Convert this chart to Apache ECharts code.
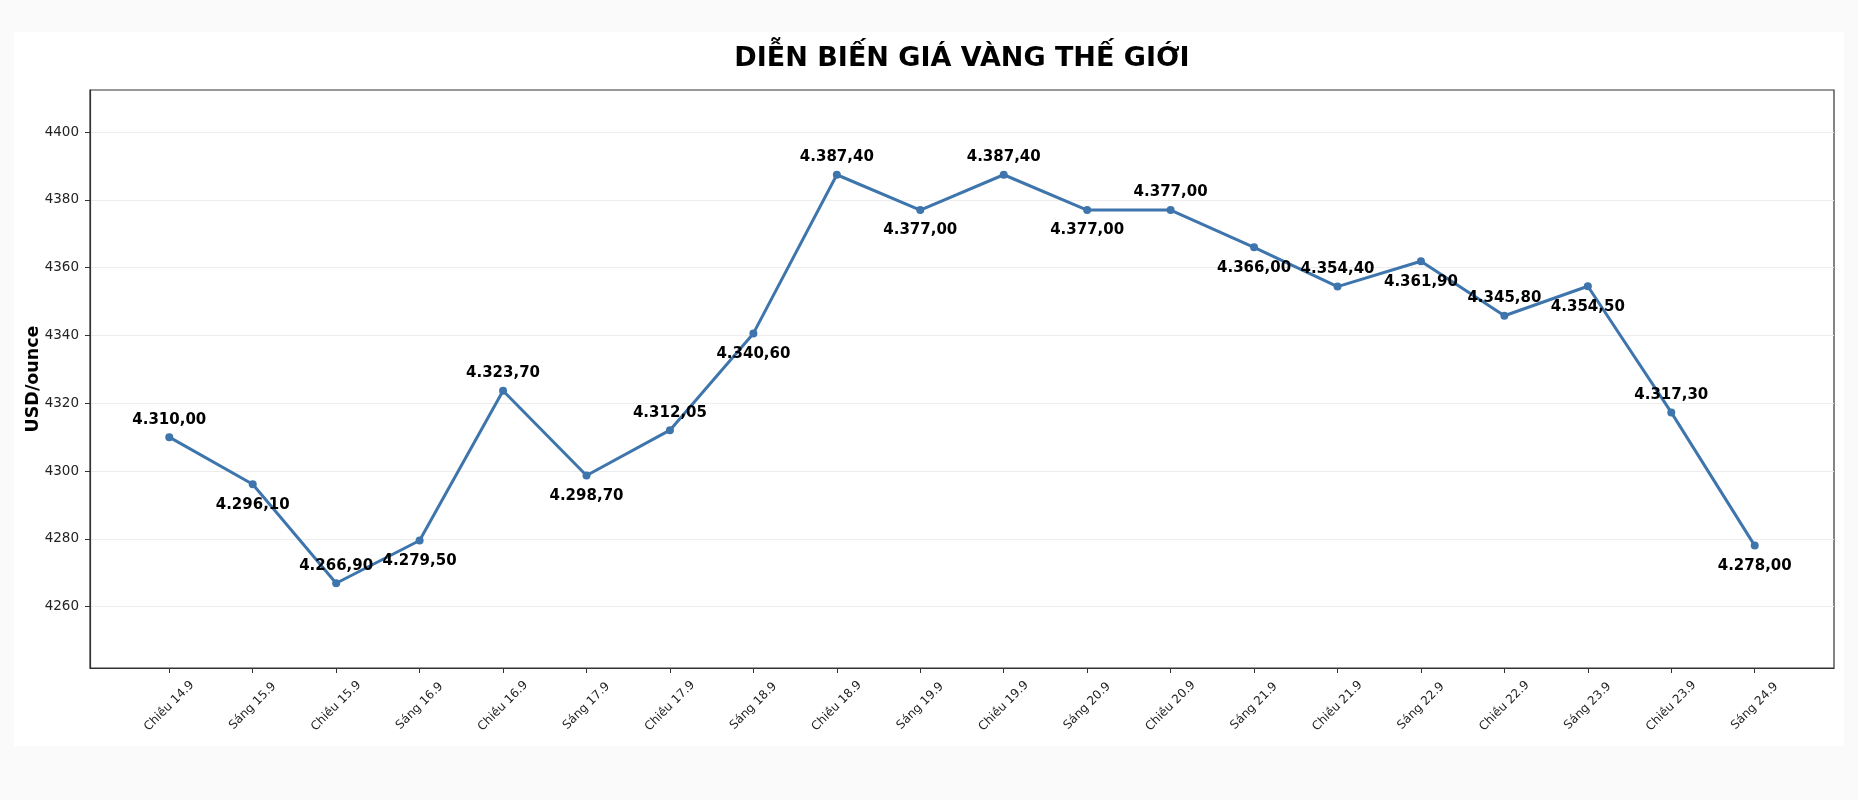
<!DOCTYPE html>
<html>
<head>
<meta charset="utf-8">
<script src="https://cdn.jsdelivr.net/npm/echarts@6/dist/echarts.min.js"></script>
<style>
  html, body { margin: 0; padding: 0; background: #fafafa; }
  #panel { position: absolute; left: 14px; top: 32px; width: 1830px; height: 714px; background: #ffffff; }
  #chart { position: absolute; left: 0; top: 0; width: 1858px; height: 800px; }
</style>
</head>
<body>
<div id="panel"></div>
<div id="chart"></div>
<script>
const categories = ['Chiều 14.9','Sáng 15.9','Chiều 15.9','Sáng 16.9','Chiều 16.9','Sáng 17.9','Chiều 17.9','Sáng 18.9','Chiều 18.9','Sáng 19.9','Chiều 19.9','Sáng 20.9','Chiều 20.9','Sáng 21.9','Chiều 21.9','Sáng 22.9','Chiều 22.9','Sáng 23.9','Chiều 23.9','Sáng 24.9'];
const prices = [4310.00, 4296.10, 4266.90, 4279.50, 4323.70, 4298.70, 4312.05, 4340.60, 4387.40, 4377.00, 4387.40, 4377.00, 4377.00, 4366.00, 4354.40, 4361.90, 4345.80, 4354.50, 4317.30, 4278.00];
const yTicks = [4260, 4280, 4300, 4320, 4340, 4360, 4380, 4400];
const titleText = 'DIỄN BIẾN GIÁ VÀNG THẾ GIỚI';
const yName = 'USD/ounce';

function fmtVN(v) {
  const parts = v.toFixed(2).split('.');
  const intPart = parts[0].replace(/\B(?=(\d{3})+(?!\d))/g, '.');
  return intPart + ',' + parts[1];
}

const xIdx = categories.map((c, i) => i);
const seriesData = prices.map((v, i) => ({
  value: [i, v],
  label: i % 2 === 0 ? { position: 'top', distance: 6 } : { position: 'bottom', distance: 9 }
}));

const FONT = 'DejaVu Sans';
const chart = echarts.init(document.getElementById('chart'), null, { renderer: 'canvas' });
chart.setOption({
  backgroundColor: 'transparent',
  animation: false,
  title: {
    text: titleText,
    left: 962,
    textAlign: 'center',
    top: 45.5,
    padding: 0,
    textStyle: { fontFamily: FONT, fontSize: 27, fontWeight: 'bold', color: '#000' }
  },
  grid: {
    left: 90, right: 24, top: 90, bottom: 132,
    show: true, borderColor: '#333', borderWidth: 1.2, backgroundColor: 'transparent'
  },
  xAxis: {
    type: 'value',
    min: -0.95,
    max: 19.95,
    axisLine: { show: true, onZero: false, lineStyle: { color: '#333', width: 1.2 } },
    axisTick: { show: true, customValues: xIdx, length: 5, lineStyle: { color: '#333' } },
    axisLabel: {
      customValues: xIdx,
      rotate: 45,
      align: 'center',
      verticalAlign: 'middle',
      margin: 38,
      fontFamily: FONT,
      fontSize: 12,
      color: '#222',
      formatter: v => categories[Math.round(v)] || ''
    },
    splitLine: { show: false }
  },
  yAxis: {
    type: 'value',
    min: 4241.9,
    max: 4412.4,
    name: yName,
    nameLocation: 'middle',
    nameGap: 48,
    nameMoveOverlap: false,
    nameTextStyle: { fontFamily: FONT, fontSize: 17.5, fontWeight: 'bold', color: '#000' },
    axisLine: { show: true, onZero: false, lineStyle: { color: '#333', width: 1.2 } },
    axisTick: { show: true, customValues: yTicks, length: 5, lineStyle: { color: '#333' } },
    axisLabel: {
      customValues: yTicks,
      margin: 11,
      fontFamily: FONT,
      fontSize: 13.5,
      color: '#222',
      formatter: v => String(Math.round(v))
    },
    splitLine: { show: true, lineStyle: { color: '#ececec', width: 1 } }
  },
  series: [{
    type: 'line',
    data: seriesData,
    symbol: 'circle',
    symbolSize: 8,
    lineStyle: { color: '#3d75ac', width: 3 },
    itemStyle: { color: '#3d75ac' },
    label: {
      show: true,
      fontFamily: FONT,
      fontSize: 15,
      fontWeight: 'bold',
      color: '#000',
      formatter: p => fmtVN(p.value[1])
    }
  }]
});
</script>
</body>
</html>
